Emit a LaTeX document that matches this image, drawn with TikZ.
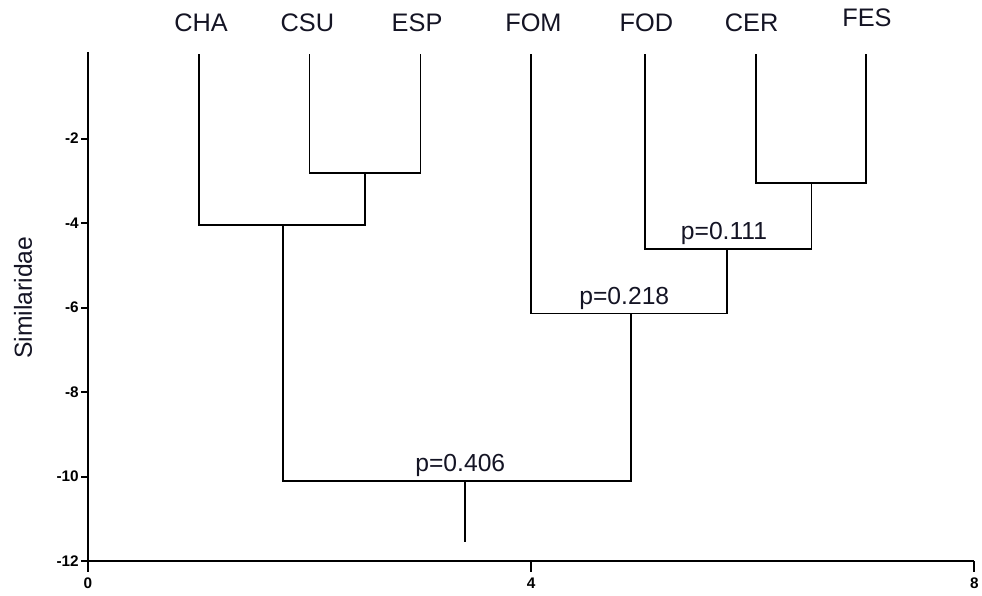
\documentclass[tikz,border=0pt]{standalone}
\usepackage{fontspec}
\setmainfont{Liberation Sans}
\usepackage{tikz}
\usetikzlibrary{positioning}
\usetikzlibrary{calc}
\definecolor{encre}{rgb}{0.08,0.08,0.14}

\begin{document}
\begin{tikzpicture}[x=83.1pt, y=31.69pt,
				branch/.style = {draw=black, line width=1.25pt},
				axe/.style = {draw=black, line width=1.5pt},
				leaf/.style = {anchor=base, inner sep=0pt, font=\fontsize{19}{21}\selectfont, text=encre},
				pval/.style = {anchor=south, inner sep=1pt, font=\fontsize{18.5}{21}\selectfont, text=encre},
				graduation/.style = {inner sep=0pt, font=\fontsize{11.5}{13}\selectfont\bfseries, text=black}]
				
				\useasboundingbox (-0.7942,1.2781) rectangle (8.0686,-12.8047);
				
				% Axes
				\coordinate (O) at (0,-12);
				\coordinate (top) at (0,0.05);
				\coordinate (end) at (8,-12);
				\draw[axe] (top) -- (O) -- (end);
				\foreach \y in {-2,-4,...,-12}
					\draw[axe] (0,\y) -- ++(-0.063,0) node[graduation, anchor=east, xshift=-1pt] {\y};
				\foreach \x in {0,4,8}
					\draw[axe] (\x,-12) -- ++(0,-0.25) node[graduation, anchor=north, yshift=-4pt] {\x};
				\node[rotate=90, font=\fontsize{18.5}{20}\selectfont, text=encre] (titre) at (-0.585,-5.77) {Similaridae};
				
				% Leaves
				\coordinate (cha) at (1,0);
				\coordinate (csu) at (2,0);
				\coordinate (esp) at (3,0);
				\coordinate (fom) at (4,0);
				\coordinate (fod) at (5.03,0);
				\coordinate (cer) at (6.03,0);
				\coordinate (fes) at (7.02,0);
				\node[leaf] (CHA) at (1.02,0.53) {CHA};
				\node[leaf] (CSU) at (1.98,0.53) {CSU};
				\node[leaf] (ESP) at (2.97,0.53) {ESP};
				\node[leaf] (FOM) at (4.02,0.53) {FOM};
				\node[leaf] (FOD) at (5.04,0.53) {FOD};
				\node[leaf] (CER) at (5.99,0.53) {CER};
				\node[leaf] (FES) at (7.03,0.65) {FES};
				
				% Joins
				\coordinate (j1) at (2.5,-2.82);
				\coordinate (j2) at (1.76,-4.05);
				\coordinate (j3) at (6.53,-3.05);
				\coordinate (j4) at (5.77,-4.61);
				\coordinate (j5) at (4.9,-6.14);
				\coordinate (j6) at (3.4,-10.1);
				\coordinate (stem) at (3.4,-11.55);
				
				% Branches
				\draw[branch] (csu) |- (j1) -| (esp);
				\draw[branch] (cha) |- (j2) -| (j1);
				\draw[branch] (cer) |- (j3) -| (fes);
				\draw[branch] (fod) |- (j4) -| (j3);
				\draw[branch] (fom) |- (j5) -| (j4);
				\draw[branch] (j2) |- (j6) -| (j5);
				\draw[branch] (j6) -- (stem);
				
				% p values
				\node[pval] (p1) at ($(j4)+(-0.03,0.05)$) {p=0.111};
				\node[pval] (p2) at ($(j5)+(-0.06,0.05)$) {p=0.218};
				\node[pval] (p3) at ($(j6)+(-0.04,0.05)$) {p=0.406};
				
			\end{tikzpicture}
\end{document}
